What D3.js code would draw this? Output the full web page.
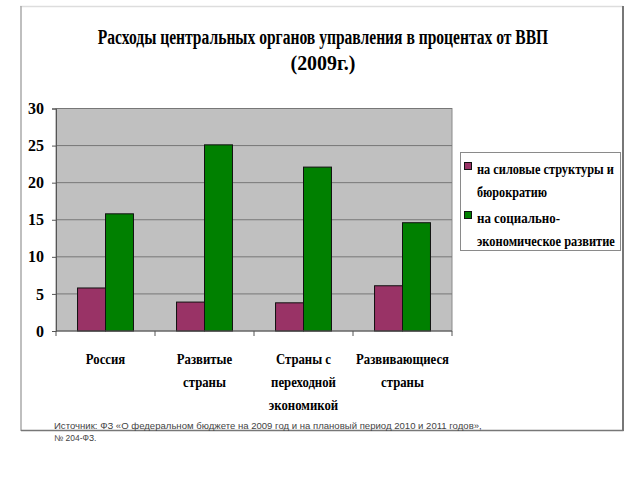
<!DOCTYPE html>
<html><head><meta charset="utf-8">
<script src="https://cdn.jsdelivr.net/npm/d3@7"></script>
<style>body{margin:0;background:#fff}svg{display:block}
.sf{font-family:"Liberation Serif","Tinos","DejaVu Serif","Times New Roman",serif;font-weight:bold}
.ss{font-family:"Liberation Sans","Open Sans",Arial,sans-serif}
</style>
</head><body>
<svg id="c" width="640" height="480"></svg>
<script>
const categories = ["Россия", "Развитые страны", "Страны с переходной экономикой", "Развивающиеся страны"];
const categoryLines = [["Россия"], ["Развитые", "страны"], ["Страны с", "переходной", "экономикой"], ["Развивающиеся", "страны"]];
const seriesNames = ["на силовые структуры и бюрократию", "на социально-экономическое развитие"];
const legendLines = [["на силовые структуры и", "бюрократию"], ["на социально-", "экономическое развитие"]];
const powerValues = [5.8, 3.9, 3.8, 6.1];
const socialValues = [15.8, 25.1, 22.1, 14.6];
const yTicks = [0, 5, 10, 15, 20, 25, 30];
const titleLines = ["Расходы центральных органов управления в процентах от ВВП", "(2009г.)"];
const sourceLines = ["Источник: ФЗ «О федеральном бюджете на 2009 год и на плановый период 2010 и 2011 годов»,", "№ 204-ФЗ."];
const colors = ["#993366", "#008000"];

const svg = d3.select("#c");

// fit text horizontally to a target width
function fitWidth(t, target){
  const w = t.node().getComputedTextLength();
  if (w > 0) {
    const fs = parseFloat(t.attr("font-size"));
    const sx = target / w;
    const x = parseFloat(t.attr("x"));
    t.attr("transform", `translate(${x},0) scale(${sx},1) translate(${-x},0)`);
  }
  return t;
}

// outer frame
svg.append("line").attr("x1",20).attr("x2",623).attr("y1",6.5).attr("y2",6.5).attr("stroke","#ddd").attr("stroke-width",1.5);
svg.append("line").attr("x1",21).attr("x2",21).attr("y1",6).attr("y2",431).attr("stroke","#aaa").attr("stroke-width",1.5);
svg.append("line").attr("x1",623).attr("x2",623).attr("y1",6).attr("y2",431).attr("stroke","#777").attr("stroke-width",2);
svg.append("line").attr("x1",21).attr("x2",623.5).attr("y1",430.5).attr("y2",430.5).attr("stroke","#777").attr("stroke-width",1.5);

// title
const titleW = [451, 65];
titleLines.forEach((t,i)=>{
  const el = svg.append("text").attr("class","sf").attr("x",323).attr("y",[44,70][i]).attr("text-anchor","middle")
    .attr("font-size",20).attr("fill","#000").text(t);
  fitWidth(el, titleW[i]);
});

const L=56, R=452, T=108.5, B=331;
const x0 = d3.scaleBand().domain(categories).range([L,R]).paddingInner(0).paddingOuter(0);
const x1 = d3.scaleBand().domain([0,1]).range([0,x0.bandwidth()]).paddingInner(0).paddingOuter(0.77);
const y = d3.scaleLinear().domain([0,30]).range([B,T]);

// plot background
svg.append("rect").attr("x",L).attr("y",T).attr("width",R-L).attr("height",B-T).attr("fill","#c0c0c0").attr("stroke","#8a8a8a").attr("stroke-width",1);

// gridlines
svg.append("g").selectAll("line").data(yTicks.filter(d=>d>0)).join("line")
  .attr("x1",L).attr("x2",R).attr("y1",d=>y(d)).attr("y2",d=>y(d)).attr("stroke","#777").attr("stroke-width",1);

// bars
const data = categories.map((c,i)=>({c, v:[powerValues[i], socialValues[i]]}));
const g = svg.append("g");
data.forEach(d=>{
  g.append("g").attr("transform",`translate(${x0(d.c)},0)`).selectAll("rect").data(d.v).join("rect")
    .attr("x",(v,j)=>x1(j)).attr("width",x1.bandwidth()).attr("y",v=>y(v)).attr("height",v=>B-y(v))
    .attr("fill",(v,j)=>colors[j]).attr("stroke","#111").attr("stroke-width",1);
});

// y axis
const yAxis = d3.axisLeft(y).tickValues(yTicks).tickSize(4).tickPadding(8);
const ya = svg.append("g").attr("transform",`translate(${L},0)`).call(yAxis);
ya.attr("font-family",null).attr("font-size",null);
ya.select(".domain").attr("stroke","#555");
ya.selectAll(".tick line").attr("stroke","#555");
ya.selectAll("text").attr("class","sf").attr("font-size",16).attr("fill","#000");

// x axis
const xa = svg.append("g").attr("transform",`translate(0,${B})`);
xa.append("line").attr("x1",L).attr("x2",R).attr("y1",0).attr("y2",0).attr("stroke","#555");
const bounds = categories.map(c=>x0(c)).concat([R]);
xa.selectAll("line.t").data(bounds).join("line").attr("class","t")
  .attr("x1",d=>d).attr("x2",d=>d).attr("y1",0).attr("y2",5).attr("stroke","#555");

// category labels
categories.forEach((c,i)=>{
  categoryLines[i].forEach((ln,k)=>{
    const t = svg.append("text").attr("class","sf").attr("x",x0(c)+x0.bandwidth()/2).attr("y",364+k*23)
      .attr("text-anchor","middle").attr("font-size",15).attr("fill","#000").text(ln);
    const w = t.node().getComputedTextLength();
    fitWidth(t, w*0.85);
  });
});

// legend
svg.append("rect").attr("x",460.5).attr("y",152.5).attr("width",160).attr("height",98).attr("fill","#fff").attr("stroke","#8a8a8a");
const legY = [[174,197],[223,246]];
const legW = [[137,70],[83,138]];
seriesNames.forEach((s,i)=>{
  svg.append("rect").attr("x",464.5).attr("y",legY[i][0]-11.5).attr("width",7).attr("height",7)
    .attr("fill",colors[i]).attr("stroke","#111");
  legendLines[i].forEach((ln,k)=>{
    const t = svg.append("text").attr("class","sf").attr("x",477).attr("y",legY[i][k])
      .attr("font-size",15).attr("fill","#000").text(ln);
    fitWidth(t, legW[i][k]);
  });
});

// source
sourceLines.forEach((s,i)=>{
  const t = svg.append("text").attr("class","ss").attr("x",54).attr("y",[429.5,441][i])
    .attr("font-size",8.5).attr("fill","#444").text(s);
  if(i===0) fitWidth(t, 428);
});
</script>
</body></html>
